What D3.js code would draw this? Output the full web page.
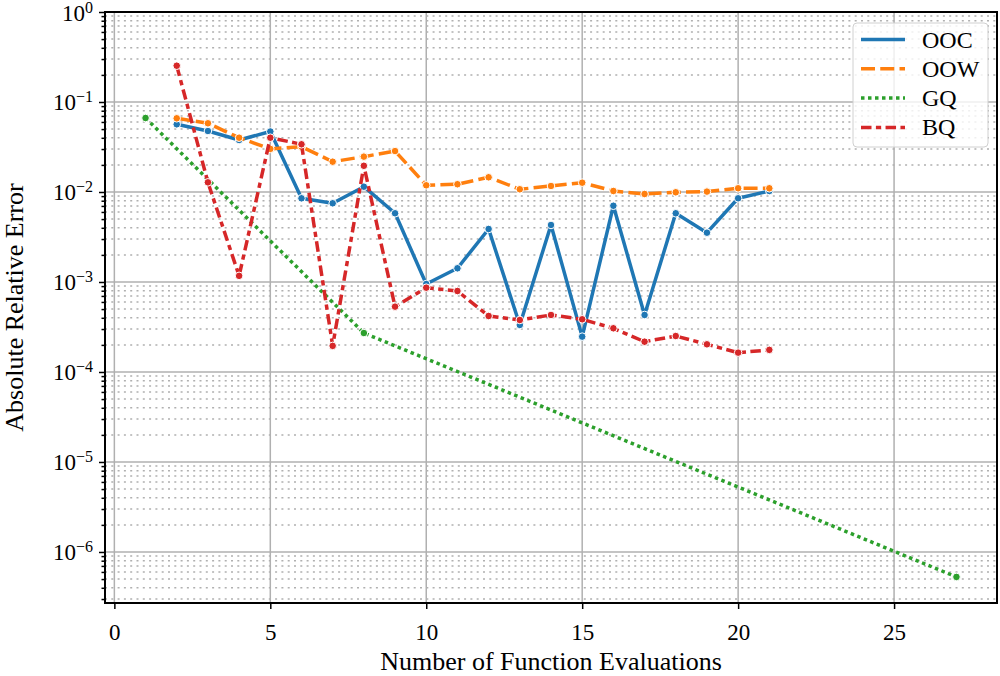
<!DOCTYPE html>
<html>
<head>
<meta charset="utf-8">
<script src="https://cdn.jsdelivr.net/npm/d3@7"></script>
<style>
    body { margin: 0; background: #fff; }
    .grid-major line { stroke: #b0b0b0; stroke-width: 1.5; }
    .grid-minor line { stroke: #b0b0b0; stroke-width: 1.5; stroke-dasharray: 2, 4.3; }
    .series path { fill: none; stroke-width: 3.5; stroke-linejoin: round; }
</style>
</head>
<body>
<svg id="svg" width="1000" height="676"></svg>
<script>

// Function evaluations (x) for the three iterative methods
var evals = [2, 3, 4, 5, 6, 7, 8, 9, 10, 11, 12, 13, 14, 15, 16, 17, 18, 19, 20, 21];
var ooc = [0.0565, 0.0476, 0.0378, 0.047, 0.00851, 0.00749, 0.01145, 0.0058, 0.00095, 0.00142,
           0.00388, 0.000333, 0.0043, 0.000247, 0.00703, 0.00043, 0.0058, 0.00353, 0.00851, 0.01026];
var oow = [0.0659, 0.058, 0.0401, 0.0301, 0.0319, 0.0217, 0.0247, 0.0285, 0.01187, 0.0122,
           0.01457, 0.01072, 0.01166, 0.01269, 0.01026, 0.0095, 0.00993, 0.0101, 0.011, 0.011];
var bq = [0.253, 0.0128, 0.00117, 0.0401, 0.0339, 0.000195, 0.01955, 0.000532, 0.000864, 0.000794,
          0.000419, 0.000378, 0.00043, 0.000385, 0.000306, 0.000217, 0.000251, 0.000203, 0.000164, 0.000176];

// Gauss quadrature
var gqEvals = [1, 8, 27];
var gq = [0.0664, 0.000271, 5.28e-7];

var seriesNames = ["OOC", "OOW", "GQ", "BQ"];
var xTicks = [0, 5, 10, 15, 20, 25];
var yTickExps = [0, -1, -2, -3, -4, -5, -6];

var FONT = "'Liberation Serif', 'DejaVu Serif', serif";

var series = [
    {name: seriesNames[0], x: evals, y: ooc, color: "#1f77b4", dash: null},
    {name: seriesNames[1], x: evals, y: oow, color: "#ff7f0e", dash: "14,5.25"},
    {name: seriesNames[2], x: gqEvals, y: gq, color: "#2ca02c", dash: "3.5,3.5"},
    {name: seriesNames[3], x: evals, y: bq, color: "#d62728", dash: "10.5,4.4,5.25,4.4"}
];

var margin = {top: 12, right: 3, bottom: 73, left: 105};
var W = 1000, H = 676;
var width = W - margin.left - margin.right;
var height = H - margin.top - margin.bottom;

var svg = d3.select("#svg");
var g = svg.append("g").attr("transform", "translate(" + margin.left + "," + margin.top + ")");

var x = d3.scaleLinear().domain([-0.3, 28.3]).range([0, width]);
var y = d3.scaleLog().domain([Math.pow(10, -6.567), 1]).range([height, 0]);

// minor decades 2..9 x 10^k inside the domain
var minorVals = [];
for (var k = -7; k <= -1; k++) {
    for (var m = 2; m <= 9; m++) {
        var v = m * Math.pow(10, k);
        if (v >= y.domain()[0] && v <= y.domain()[1]) minorVals.push(v);
    }
}
var majorVals = yTickExps.map(function(e) { return Math.pow(10, e); });

// grid
g.append("g").attr("class", "grid-minor")
    .selectAll("line").data(minorVals).enter().append("line")
    .attr("x1", 0).attr("x2", width)
    .attr("y1", function(d) { return y(d); }).attr("y2", function(d) { return y(d); });

var gm = g.append("g").attr("class", "grid-major");
gm.selectAll("line.h").data(majorVals).enter().append("line").attr("class", "h")
    .attr("x1", 0).attr("x2", width)
    .attr("y1", function(d) { return y(d); }).attr("y2", function(d) { return y(d); });
gm.selectAll("line.v").data(xTicks).enter().append("line").attr("class", "v")
    .attr("y1", 0).attr("y2", height)
    .attr("x1", function(d) { return x(d); }).attr("x2", function(d) { return x(d); });

// series
var line = d3.line()
    .x(function(d) { return x(d[0]); })
    .y(function(d) { return y(d[1]); });

g.append("clipPath").attr("id", "clip")
    .append("rect").attr("width", width).attr("height", height);

series.forEach(function(s) {
    var pts = s.x.map(function(xv, i) { return [xv, s.y[i]]; });
    var sg = g.append("g").attr("class", "series").attr("clip-path", "url(#clip)");
    sg.append("path")
        .attr("d", line(pts))
        .attr("stroke", s.color)
        .attr("stroke-dasharray", s.dash);
    sg.selectAll("circle").data(pts).enter().append("circle")
        .attr("cx", function(d) { return x(d[0]); })
        .attr("cy", function(d) { return y(d[1]); })
        .attr("r", 3.8)
        .attr("fill", s.color)
        .attr("stroke", "#fff")
        .attr("stroke-width", 1);
});

// axes: ticks drawn by d3, labels added by hand for superscripts
var xAxis = g.append("g").attr("transform", "translate(0," + height + ")")
    .call(d3.axisBottom(x).tickValues(xTicks).tickSize(6).tickFormat(""));
var yAxis = g.append("g")
    .call(d3.axisLeft(y).tickValues(majorVals).tickSize(6).tickFormat(""));
var yMinor = g.append("g")
    .call(d3.axisLeft(y).tickValues(minorVals).tickSize(3.5).tickFormat(""));
[xAxis, yAxis, yMinor].forEach(function(a) {
    a.attr("font-family", FONT);
    a.select(".domain").remove();
    a.selectAll(".tick line").attr("stroke", "#000").attr("stroke-width", 1.5);
});

xAxis.selectAll(".tick").append("text")
    .attr("y", 37).attr("fill", "#000")
    .style("font-family", FONT)
    .attr("font-size", 23).attr("text-anchor", "middle")
    .text(function(d) { return d; });

yAxis.selectAll(".tick").each(function(d) {
    var t = d3.select(this).append("text")
        .attr("x", -12).attr("y", 8).attr("fill", "#000")
        .style("font-family", FONT)
        .attr("font-size", 23).attr("text-anchor", "end");
    t.append("tspan").text("10");
    var e = Math.round(Math.log10(d));
    t.append("tspan").attr("dy", -8).attr("font-size", 16)
        .text(e < 0 ? "\u2212" + (-e) : e);
});

// frame
g.append("rect").attr("width", width).attr("height", height)
    .attr("fill", "none").attr("stroke", "#000").attr("stroke-width", 2);

// axis titles
svg.append("text")
    .attr("x", margin.left + width / 2).attr("y", 670)
    .style("font-family", FONT)
    .attr("text-anchor", "middle").attr("font-size", 26)
    .text("Number of Function Evaluations");
svg.append("text")
    .attr("transform", "translate(23," + (margin.top + height / 2) + ") rotate(-90)")
    .style("font-family", FONT)
    .attr("text-anchor", "middle").attr("font-size", 26)
    .text("Absolute Relative Error");

// legend
var leg = svg.append("g").attr("transform", "translate(853,23)");
leg.append("rect").attr("width", 135).attr("height", 124).attr("rx", 4)
    .attr("fill", "#fff").attr("fill-opacity", 0.8)
    .attr("stroke", "#d0d0d0").attr("stroke-width", 1);
var items = leg.selectAll("g.item").data(series).enter().append("g").attr("class", "item")
    .attr("transform", function(d, i) { return "translate(0," + (16.5 + i * 29.3) + ")"; });
items.append("line")
    .attr("x1", 8).attr("x2", 52)
    .attr("stroke", function(d) { return d.color; })
    .attr("stroke-width", 3.5)
    .attr("stroke-dasharray", function(d) { return d.dash; });
items.append("text")
    .attr("x", 69).attr("y", 8).attr("font-size", 24)
    .style("font-family", FONT)
    .text(function(d) { return d.name; });

</script>
</body>
</html>
